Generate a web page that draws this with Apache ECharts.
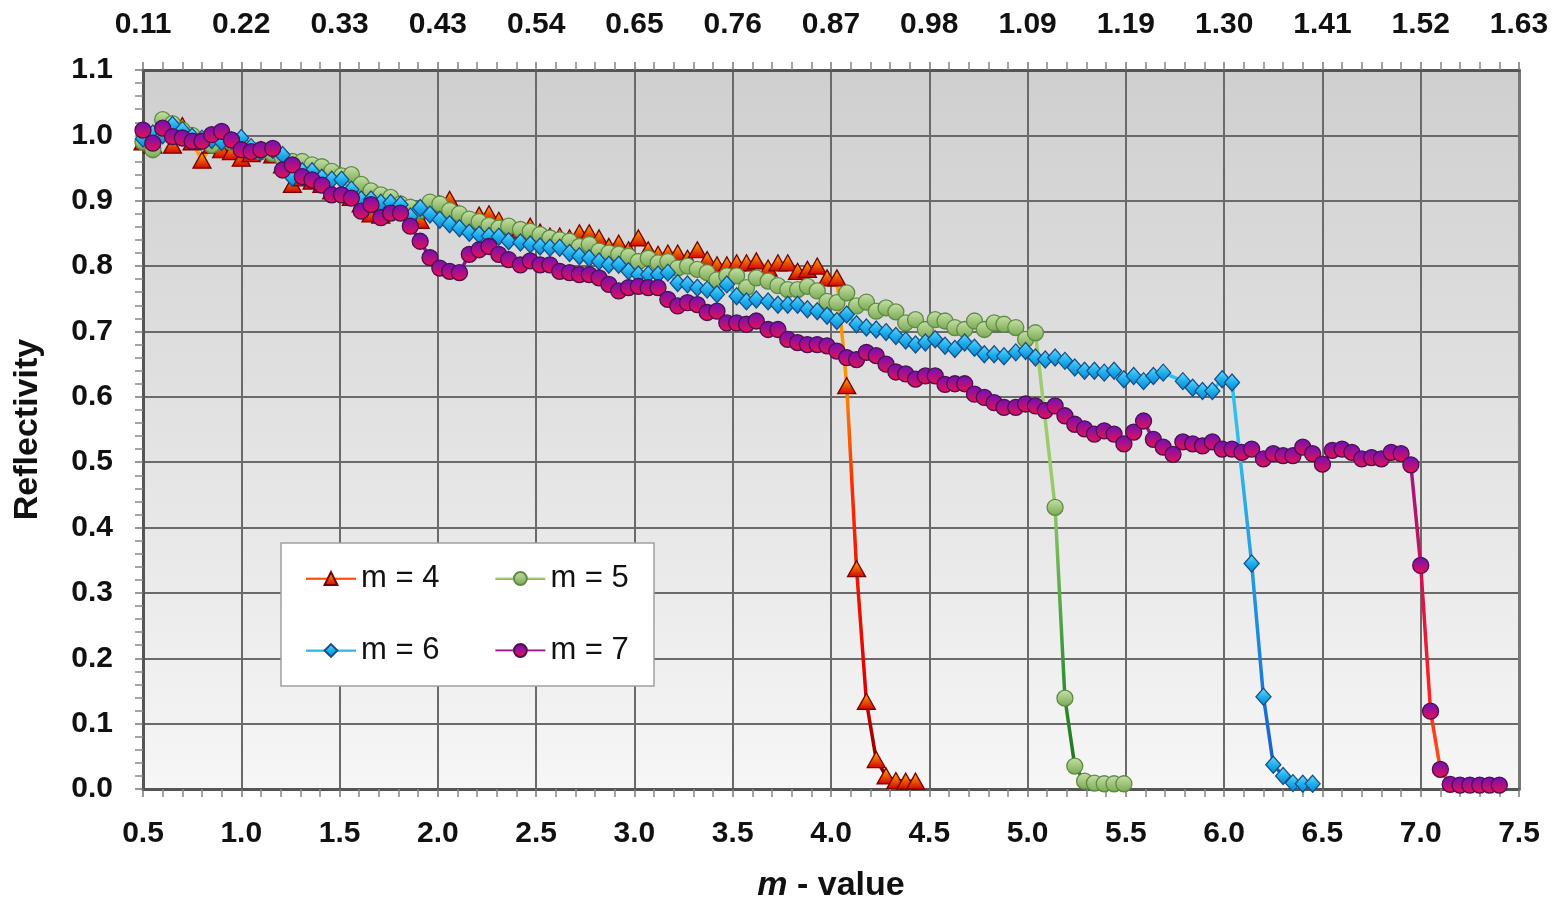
<!DOCTYPE html>
<html>
<head>
<meta charset="utf-8">
<title>Reflectivity vs m-value</title>
<script src="https://cdn.jsdelivr.net/npm/echarts@6/dist/echarts.min.js"></script>
<style>
  html, body { margin: 0; padding: 0; background: #fff; }
  #chart { width: 1554px; height: 908px; }
</style>
</head>
<body>
<div id="chart"></div>
<script>
// m-value positions shared by every measurement
const mGrid = [
  0.50, 0.55, 0.60, 0.65, 0.70, 0.75, 0.80, 0.85, 0.90, 0.95,
  1.00, 1.05, 1.10, 1.16, 1.21, 1.26, 1.31, 1.36, 1.41, 1.46,
  1.51, 1.56, 1.61, 1.66, 1.71, 1.76, 1.81, 1.86, 1.91, 1.96,
  2.01, 2.06, 2.11, 2.16, 2.21, 2.26, 2.31, 2.36, 2.42, 2.47,
  2.52, 2.57, 2.62, 2.67, 2.72, 2.77, 2.82, 2.87, 2.92, 2.97,
  3.02, 3.07, 3.12, 3.17, 3.22, 3.27, 3.32, 3.37, 3.42, 3.47,
  3.52, 3.57, 3.62, 3.68, 3.73, 3.78, 3.83, 3.88, 3.93, 3.98,
  4.03, 4.08, 4.13, 4.18, 4.23, 4.28, 4.33, 4.38, 4.43, 4.48,
  4.53, 4.58, 4.63, 4.68, 4.73, 4.78, 4.83, 4.88, 4.94, 4.99,
  5.04, 5.09, 5.14, 5.19, 5.24, 5.29, 5.34, 5.39, 5.44, 5.49,
  5.54, 5.59, 5.64, 5.69, 5.74, 5.79, 5.84, 5.89, 5.94, 5.99,
  6.04, 6.09, 6.14, 6.20, 6.25, 6.30, 6.35, 6.40, 6.45, 6.50,
  6.55, 6.60, 6.65, 6.70, 6.75, 6.80, 6.85, 6.90, 6.95, 7.00,
  7.05, 7.10, 7.15, 7.20, 7.25, 7.30, 7.35, 7.40
];

// reflectivity per coating, null = no marker at that m
const reflM4 = [
  0.990, 0.985, 1.005, 0.985, 1.015, 0.990, 0.962, 0.985, 0.978, 0.975,
  0.965, 0.972, 0.978, 0.970, 0.955, 0.925, 0.935, 0.930, 0.925, 0.915,
  0.912, 0.905, 0.895, 0.880, 0.878, 0.885, 0.890, 0.885, 0.870, 0.885,
  0.895, 0.902, 0.880, 0.865, 0.878, 0.880, 0.870, 0.858, 0.855, 0.861,
  0.852, 0.846, 0.846, 0.843, 0.851, 0.851, 0.843, 0.830, 0.835, 0.825,
  0.843, 0.825, 0.818, 0.820, 0.820, 0.812, 0.825, 0.810, 0.802, 0.802,
  0.805, 0.805, 0.808, 0.797, 0.805, 0.805, 0.792, 0.795, 0.800, 0.782,
  0.782, 0.617, 0.337, 0.134, 0.045, 0.020, 0.013, 0.012, 0.012
];
const reflM5 = [
  0.990, 0.978, 1.024, 1.018, 1.008, 1.000, 0.992, 0.985, 0.995, 0.990,
  0.985, 0.978, 0.975, 0.972, 0.965, 0.960, 0.960, 0.955, 0.952, 0.945,
  0.938, 0.940, 0.925, 0.915, 0.909, 0.905, 0.895, 0.890, 0.885, 0.898,
  0.895, 0.885, 0.880, 0.872, 0.868, 0.862, 0.858, 0.861, 0.856, 0.853,
  0.848, 0.843, 0.840, 0.838, 0.830, 0.833, 0.823, 0.820, 0.818, 0.815,
  0.807, 0.812, 0.805, 0.807, 0.797, 0.800, 0.795, 0.790, 0.779, 0.785,
  0.785, 0.767, 0.782, 0.777, 0.770, 0.764, 0.764, 0.769, 0.762, 0.746,
  0.744, 0.759, 0.739, 0.745, 0.731, 0.736, 0.730, 0.713, 0.718, 0.703,
  0.718, 0.716, 0.706, 0.703, 0.716, 0.703, 0.713, 0.711, 0.706, 0.688,
  0.698, null, 0.431, 0.139, 0.035, 0.012, 0.009, 0.008, 0.008, 0.008
];
const reflM6 = [
  0.995, 1.003, 1.000, 1.016, 1.008, 0.998, 0.995, 0.993, 0.990, 0.992,
  0.996, 0.982, 0.975, 0.978, 0.970, 0.935, 0.945, 0.945, 0.935, 0.932,
  0.932, 0.917, 0.902, 0.902, 0.897, 0.897, 0.894, 0.876, 0.889, 0.879,
  0.871, 0.864, 0.858, 0.851, 0.848, 0.846, 0.845, 0.838, 0.836, 0.833,
  0.830, 0.828, 0.828, 0.820, 0.815, 0.812, 0.807, 0.802, 0.802, 0.792,
  0.787, 0.787, 0.787, 0.790, 0.774, 0.772, 0.767, 0.764, 0.757, 0.772,
  0.754, 0.746, 0.749, 0.746, 0.741, 0.741, 0.741, 0.734, 0.731, 0.724,
  0.716, 0.726, 0.711, 0.706, 0.703, 0.699, 0.693, 0.686, 0.680, 0.683,
  0.688, 0.678, 0.673, 0.683, 0.675, 0.665, 0.665, 0.662, 0.668, 0.670,
  0.660, 0.657, 0.660, 0.655, 0.645, 0.640, 0.640, 0.637, 0.640, 0.627,
  0.632, 0.624, 0.632, 0.637, null, 0.624, 0.614, 0.609, 0.609, 0.627,
  0.622, null, 0.345, 0.141, 0.037, 0.020, 0.009, 0.008, 0.008
];
const reflM7 = [
  1.008, 0.988, 1.011, 0.998, 0.996, 0.991, 0.991, 1.001, 1.006, 0.993,
  0.978, 0.975, 0.978, 0.980, 0.947, 0.955, 0.937, 0.932, 0.924, 0.909,
  0.909, 0.904, 0.884, 0.894, 0.874, 0.881, 0.881, 0.861, 0.838, 0.813,
  0.797, 0.792, 0.790, 0.818, 0.825, 0.830, 0.818, 0.810, 0.802, 0.808,
  0.802, 0.802, 0.792, 0.790, 0.787, 0.787, 0.782, 0.772, 0.762, 0.767,
  0.769, 0.767, 0.767, 0.749, 0.739, 0.744, 0.741, 0.729, 0.731, 0.713,
  0.713, 0.711, 0.716, 0.703, 0.703, 0.688, 0.683, 0.680, 0.680, 0.678,
  0.670, 0.660, 0.657, 0.668, 0.663, 0.650, 0.638, 0.635, 0.627, 0.632,
  0.632, 0.619, 0.620, 0.620, 0.604, 0.599, 0.591, 0.584, 0.584, 0.589,
  0.586, 0.579, 0.586, 0.571, 0.558, 0.551, 0.543, 0.548, 0.543, 0.528,
  0.546, 0.563, 0.535, 0.523, 0.512, 0.531, 0.528, 0.525, 0.531, 0.520,
  0.520, 0.515, 0.520, 0.505, 0.513, 0.510, 0.510, 0.523, 0.513, 0.497,
  0.518, 0.520, 0.515, 0.505, 0.507, 0.505, 0.515, 0.513, 0.496, 0.342,
  0.119, 0.030, 0.007, 0.006, 0.006, 0.006, 0.006, 0.006
];

// tick labels
const bottomLabels = ['0.5', '1.0', '1.5', '2.0', '2.5', '3.0', '3.5', '4.0', '4.5', '5.0', '5.5', '6.0', '6.5', '7.0', '7.5'];
const topLabels = ['0.11', '0.22', '0.33', '0.43', '0.54', '0.65', '0.76', '0.87', '0.98', '1.09', '1.19', '1.30', '1.41', '1.52', '1.63'];
const yLabels = ['0.0', '0.1', '0.2', '0.3', '0.4', '0.5', '0.6', '0.7', '0.8', '0.9', '1.0', '1.1'];

const FONT = "'Liberation Sans', Arial, Helvetica, sans-serif";

// vertical gradient helper
function vGrad(stops) {
  return new echarts.graphic.LinearGradient(0, 0, 0, 1,
    stops.map(s => ({ offset: s[0], color: s[1] })));
}

function makeSeries(name, values, symbol, size, fill, border, line) {
  const pts = [];
  values.forEach((y, i) => {
    if (y !== null) pts.push([mGrid[i], y]);
  });
  return {
    name: name,
    type: 'line',
    data: pts,
    symbol: symbol,
    symbolSize: size,
    showSymbol: true,
    lineStyle: { width: 3.5, color: line },
    itemStyle: { color: fill, borderColor: border, borderWidth: 1.3 },
    emphasis: { disabled: true }
  };
}

const chart = echarts.init(document.getElementById('chart'));

const axisFont = { fontSize: 30, fontWeight: 'bold', color: '#111', fontFamily: FONT };

const option = {
  animation: false,
  grid: {
    left: 143, top: 70, width: 1376, height: 721,
    show: true,
    borderWidth: 0,
    backgroundColor: vGrad([[0, '#cfcfcf'], [1, '#f6f6f6']])
  },
  xAxis: [
    {
      type: 'value',
      position: 'bottom',
      min: 0.5, max: 7.5, interval: 0.5,
      axisLine: { show: true, onZero: false, lineStyle: { color: '#555', width: 3 } },
      axisTick: { show: true, length: 8, lineStyle: { color: '#777', width: 1.5 } },
      minorTick: { show: true, splitNumber: 5, length: 8, lineStyle: { color: '#888', width: 1.5 } },
      splitLine: { show: true, lineStyle: { color: '#6a6a6a', width: 2 } },
      axisLabel: Object.assign({ margin: 30, formatter: v => bottomLabels[Math.round((v - 0.5) / 0.5)] }, axisFont),
      name: '{i|m} - value',
      nameLocation: 'middle',
      nameGap: 80,
      nameTextStyle: {
        fontSize: 34, fontWeight: 'bold', color: '#111', fontFamily: FONT,
        rich: { i: { fontSize: 34, fontWeight: 'bold', fontStyle: 'italic', color: '#111', fontFamily: FONT } }
      }
    },
    {
      type: 'value',
      position: 'top',
      min: 0.5, max: 7.5, interval: 0.5,
      axisLine: { show: true, onZero: false, lineStyle: { color: '#555', width: 3 } },
      axisTick: { show: true, length: 8, lineStyle: { color: '#777', width: 1.5 } },
      minorTick: { show: true, splitNumber: 5, length: 8, lineStyle: { color: '#888', width: 1.5 } },
      splitLine: { show: false },
      axisLabel: Object.assign({ margin: 30, formatter: v => topLabels[Math.round((v - 0.5) / 0.5)] }, axisFont)
    }
  ],
  yAxis: [
    {
      type: 'value',
      position: 'left',
      min: 0, max: 1.1, interval: 0.1,
      axisLine: { show: true, onZero: false, lineStyle: { color: '#555', width: 3 } },
      axisTick: { show: true, length: 8, lineStyle: { color: '#777', width: 1.5 } },
      minorTick: { show: true, splitNumber: 5, length: 8, lineStyle: { color: '#888', width: 1.5 } },
      splitLine: { show: true, lineStyle: { color: '#6a6a6a', width: 2 } },
      axisLabel: Object.assign({ margin: 30, formatter: v => yLabels[Math.round(v / 0.1)] }, axisFont),
      name: 'Reflectivity',
      nameLocation: 'middle',
      nameGap: 98,
      nameTextStyle: { fontSize: 34, fontWeight: 'bold', color: '#111', fontFamily: FONT }
    },
    {
      type: 'value',
      position: 'right',
      min: 0, max: 1.1, interval: 0.1,
      axisLine: { show: true, onZero: false, lineStyle: { color: '#777', width: 3 } },
      axisTick: { show: false },
      axisLabel: { show: false },
      splitLine: { show: false }
    }
  ],
  graphic: [
    {
      type: 'rect',
      z: 3,
      shape: { x: 281, y: 543, width: 373, height: 143 },
      style: { fill: '#ffffff', stroke: '#a0a0a0', lineWidth: 1.5 }
    }
  ],
  legend: [
    {
      data: ['m = 4', 'm = 5'],
      left: 305, top: 563,
      padding: 0,
      itemWidth: 50, itemHeight: 16, itemGap: 55,
      textStyle: { fontSize: 31, color: '#111', fontFamily: FONT }
    },
    {
      data: ['m = 6', 'm = 7'],
      left: 305, top: 635,
      padding: 0,
      itemWidth: 50, itemHeight: 16, itemGap: 55,
      textStyle: { fontSize: 31, color: '#111', fontFamily: FONT }
    }
  ],
  series: [
    makeSeries('m = 4', reflM4, 'triangle', [18, 16],
      vGrad([[0, '#ffb300'], [1, '#d40000']]), '#7a0000',
      vGrad([[0, '#ffa000'], [0.38, '#ff9400'], [0.55, '#ff2a00'], [0.85, '#e00000'], [1, '#7a0000']])),
    makeSeries('m = 5', reflM5, 'circle', 16,
      vGrad([[0, '#c8e2a8'], [1, '#78a852']]), '#5e8a44',
      vGrad([[0, '#a6d27a'], [0.55, '#9acb6a'], [0.8, '#3c9a3c'], [1, '#1a6e1a']])),
    makeSeries('m = 6', reflM6, 'diamond', [15, 17],
      vGrad([[0, '#70dcff'], [0.5, '#1fb0ec'], [1, '#0e7fd0']]), '#13508a',
      vGrad([[0, '#30c4f0'], [0.45, '#30c0f0'], [0.75, '#1c8ee0'], [1, '#1a58c8']])),
    makeSeries('m = 7', reflM7, 'circle', 16,
      vGrad([[0, '#6a10c0'], [1, '#f0104a']]), '#4a1050',
      vGrad([[0, '#8a1490'], [0.5, '#a01480'], [0.7, '#d81050'], [0.85, '#ff2020'], [1, '#ff6010']]))
  ]
};

chart.setOption(option);
</script>
</body>
</html>
